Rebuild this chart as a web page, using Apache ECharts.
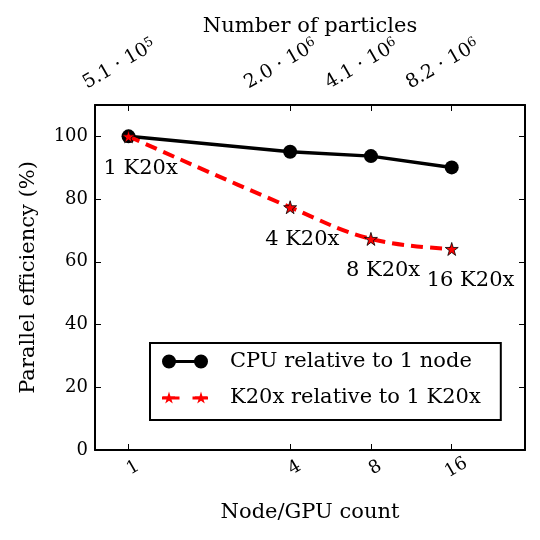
<!DOCTYPE html>
<html>
<head>
<meta charset="utf-8">
<script src="https://cdn.jsdelivr.net/npm/echarts@6/dist/echarts.min.js"></script>
<style>
    html, body { margin: 0; padding: 0; background: #fff; }
    #chart { width: 540px; height: 540px; }
</style>
</head>
<body>
<div id="chart"></div>
<script>
const nodeCounts = [1, 4, 8, 16];
const particleMantissa = ['5.1', '2.0', '4.1', '8.2'];
const particleExponent = ['5', '6', '6', '6'];
const cpuEfficiency = [100, 95.1, 93.7, 90.1];
const gpuEfficiency = [100, 77.4, 67.3, 64.1];
const gpuLabels = ['1 K20x', '4 K20x', '8 K20x', '16 K20x'];
const yTicks = [0, 20, 40, 60, 80, 100];

const serif = 'DejaVu Serif';
const star = 'path://M50,0 L61,35 L98,35 L68,57 L79,91 L50,70 L21,91 L32,57 L2,35 L39,35 Z';
// legend icons: marker at both ends of a short line, like matplotlib
const cpuIcon = 'path://M0,70 A70,70 0 1,1 140,70 A70,70 0 1,1 0,70 Z M320,70 A70,70 0 1,1 460,70 A70,70 0 1,1 320,70 Z M130,55 L330,55 L330,85 L130,85 Z';
const gpuIcon = 'path://M0,55 L175,55 L175,85 L0,85 Z M305,55 L460,55 L460,85 L305,85 Z ' +
    'M70,5 L84.3,50.5 L132.4,50.5 L93.4,79.1 L107.7,123.3 L70,96 L32.3,123.3 L46.6,79.1 L7.6,50.5 L55.7,50.5 Z ' +
    'M390,5 L404.3,50.5 L452.4,50.5 L413.4,79.1 L427.7,123.3 L390,96 L352.3,123.3 L366.6,79.1 L327.6,50.5 L375.7,50.5 Z';

const chart = echarts.init(document.getElementById('chart'));

const xBase = {
    type: 'log',
    logBase: 2,
    min: 0.75,
    max: 30,
    axisLine: { show: true, onZero: false, lineStyle: { color: '#000', width: 2 } },
    axisTick: { inside: true, length: 6, customValues: nodeCounts, lineStyle: { color: '#000', width: 1 } },
    splitLine: { show: false },
    minorTick: { show: false }
};

chart.setOption({
    animation: false,
    textStyle: { fontFamily: serif },
    grid: { left: 95, right: 15, top: 105, bottom: 90 },
    legend: {
        orient: 'vertical',
        left: 150,
        top: 343,
        padding: [8, 20, 12, 12],
        itemGap: 15,
        itemWidth: 46,
        itemHeight: 14,
        borderColor: '#000',
        borderWidth: 2,
        textStyle: { fontFamily: serif, fontSize: 21, color: '#000', padding: [0, 0, 0, 17] },
        data: [
            { name: 'CPU relative to 1 node', icon: cpuIcon },
            { name: 'K20x relative to 1 K20x', icon: gpuIcon, itemStyle: { borderWidth: 0 } }
        ]
    },
    xAxis: [
        Object.assign({}, xBase, {
            position: 'bottom',
            name: 'Node/GPU count',
            nameLocation: 'middle',
            nameGap: 52,
            nameMoveOverlap: false,
            nameTextStyle: { fontFamily: serif, fontSize: 21, color: '#000' },
            axisLabel: {
                customValues: nodeCounts,
                rotate: 30,
                align: 'center',
                verticalAlign: 'top',
                margin: 10,
                fontFamily: serif,
                fontSize: 18,
                color: '#000'
            }
        }),
        Object.assign({}, xBase, {
            position: 'top',
            name: 'Number of particles',
            nameLocation: 'middle',
            nameGap: 68,
            nameMoveOverlap: false,
            nameTextStyle: { fontFamily: serif, fontSize: 21, color: '#000' },
            axisLabel: {
                customValues: nodeCounts,
                rotate: -30,
                align: 'center',
                verticalAlign: 'bottom',
                margin: 35,
                padding: [0, 10, 0, 0],
                color: '#000',
                formatter: v => {
                    const i = nodeCounts.indexOf(Math.round(v));
                    return i < 0 ? '' : '{n|' + particleMantissa[i] + ' · 10}{sup|' + particleExponent[i] + '}';
                },
                rich: {
                    n: { fontFamily: serif, fontSize: 19, lineHeight: 20, verticalAlign: 'bottom', color: '#000' },
                    sup: { fontFamily: serif, fontSize: 13, lineHeight: 13, padding: [0, 0, 12, 0], verticalAlign: 'top', color: '#000' }
                }
            }
        })
    ],
    yAxis: [
        {
            type: 'value',
            position: 'left',
            min: 0,
            max: 110,
            interval: 20,
            name: 'Parallel efficiency (%)',
            nameLocation: 'middle',
            nameGap: 56,
            nameTextStyle: { fontFamily: serif, fontSize: 21, color: '#000' },
            axisLine: { show: true, lineStyle: { color: '#000', width: 2 } },
            axisTick: { inside: true, length: 6, customValues: yTicks, lineStyle: { color: '#000', width: 1 } },
            axisLabel: { customValues: yTicks, fontFamily: serif, fontSize: 18, color: '#000', margin: 7 },
            splitLine: { show: false }
        },
        {
            type: 'value',
            position: 'right',
            min: 0,
            max: 110,
            interval: 20,
            axisLine: { show: true, lineStyle: { color: '#000', width: 2 } },
            axisTick: { inside: true, length: 6, customValues: yTicks, lineStyle: { color: '#000', width: 1 } },
            axisLabel: { show: false },
            splitLine: { show: false }
        }
    ],
    series: [
        {
            name: 'CPU relative to 1 node',
            type: 'line',
            data: nodeCounts.map((n, i) => [n, cpuEfficiency[i]]),
            symbol: 'circle',
            symbolSize: 14,
            itemStyle: { color: '#000' },
            lineStyle: { color: '#000', width: 3.5 },
            z: 2
        },
        {
            name: 'K20x relative to 1 K20x',
            type: 'line',
            smooth: 0.4,
            data: nodeCounts.map((n, i) => [n, gpuEfficiency[i]]),
            symbol: star,
            symbolSize: 13,
            itemStyle: { color: '#ff0000', borderColor: '#000', borderWidth: 0.8 },
            lineStyle: { color: '#ff0000', width: 4, type: [12, 7] },
            label: {
                show: true,
                position: 'inside',
                align: 'left',
                verticalAlign: 'middle',
                offset: [-25, 32],
                fontFamily: serif,
                fontSize: 21,
                color: '#000',
                formatter: p => gpuLabels[p.dataIndex]
            },
            z: 3
        }
    ]
});
</script>
</body>
</html>
